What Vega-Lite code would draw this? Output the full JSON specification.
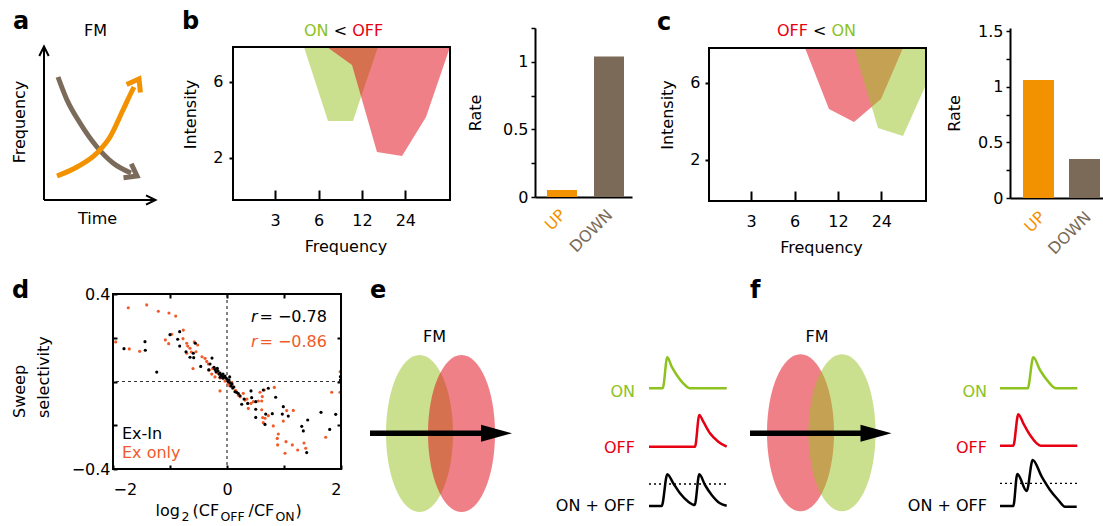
{
  "$schema": "https://vega.github.io/schema/vega-lite/v6.json",
  "padding": {"left": 0, "top": 10, "right": 0, "bottom": 0},
  "background": "white",
  "config": {
    "font": "DejaVu Sans",
    "view": {"stroke": null},
    "axis": {"labelFont": "DejaVu Sans", "labelFontSize": 16, "labelColor": "black", "titleFont": "DejaVu Sans", "titleFontSize": 16, "titleFontWeight": "normal", "titleColor": "black", "tickColor": "black", "domainColor": "black", "domainWidth": 2, "tickWidth": 1.5, "grid": false},
    "text": {"font": "DejaVu Sans", "fontSize": 16, "color": "black", "baseline": "alphabetic"}
  },
  "spacing": 266,
  "bounds": "flush",
  "resolve": {"scale": {"color": "independent"}},
  "vconcat": [
    {
      "spacing": 77,
      "bounds": "flush",
      "resolve": {"scale": {"color": "independent"}},
      "hconcat": [
        {
          "width": 156, "height": 172,
          "layer": [
            {
              "data": {"values": [
                {"id": "vaxis", "t": 44, "f": 0, "o": 0}, {"id": "vaxis", "t": 44, "f": 153, "o": 1},
                {"id": "vhead", "t": 39.3, "f": 144, "o": 0}, {"id": "vhead", "t": 44, "f": 153.5, "o": 1}, {"id": "vhead", "t": 48.7, "f": 144, "o": 2},
                {"id": "haxis", "t": 44, "f": 0, "o": 0}, {"id": "haxis", "t": 155, "f": 0, "o": 1},
                {"id": "hhead", "t": 146, "f": 4.7, "o": 0}, {"id": "hhead", "t": 155.5, "f": 0, "o": 1}, {"id": "hhead", "t": 146, "f": -4.7, "o": 2}
              ]},
              "mark": {"type": "line", "color": "black", "strokeWidth": 2, "strokeCap": "butt"},
              "encoding": {
                "x": {"field": "t", "type": "quantitative", "scale": {"domain": [0, 156], "nice": false, "zero": false}, "axis": null},
                "y": {"field": "f", "type": "quantitative", "scale": {"domain": [0, 172], "nice": false, "zero": false}, "axis": null},
                "detail": {"field": "id"},
                "order": {"field": "o"}
              }
            },
            {
              "data": {"values": [
                {"id": "down", "t": 58, "f": 123}, {"id": "down", "t": 67, "f": 100}, {"id": "down", "t": 80, "f": 77}, {"id": "down", "t": 97, "f": 53}, {"id": "down", "t": 113, "f": 37}, {"id": "down", "t": 131, "f": 27},
                {"id": "up", "t": 57, "f": 24}, {"id": "up", "t": 77, "f": 33}, {"id": "up", "t": 97, "f": 47}, {"id": "up", "t": 110, "f": 63}, {"id": "up", "t": 123, "f": 90}, {"id": "up", "t": 131, "f": 107}, {"id": "up", "t": 134, "f": 113}
              ]},
              "mark": {"type": "line", "interpolate": "monotone", "strokeWidth": 5, "strokeCap": "butt"},
              "encoding": {
                "x": {"field": "t", "type": "quantitative", "axis": null},
                "y": {"field": "f", "type": "quantitative", "axis": null},
                "color": {"field": "id", "type": "nominal", "scale": {"domain": ["down", "up"], "range": ["#7b6b5a", "#f39200"]}, "legend": null}
              }
            },
            {
              "data": {"values": [
                {"id": "down", "t": 131.3, "f": 36.3, "o": 0}, {"id": "down", "t": 137, "f": 24, "o": 1}, {"id": "down", "t": 123.5, "f": 22.3, "o": 2},
                {"id": "up", "t": 140.4, "f": 107.5, "o": 0}, {"id": "up", "t": 139, "f": 121, "o": 1}, {"id": "up", "t": 126.6, "f": 115.5, "o": 2}
              ]},
              "mark": {"type": "line", "strokeWidth": 5, "strokeJoin": "miter", "strokeCap": "butt"},
              "encoding": {
                "x": {"field": "t", "type": "quantitative", "axis": null},
                "y": {"field": "f", "type": "quantitative", "axis": null},
                "color": {"field": "id", "type": "nominal", "scale": {"domain": ["down", "up"], "range": ["#7b6b5a", "#f39200"]}, "legend": null},
                "order": {"field": "o"}
              }
            },
            {
              "data": {"values": [{"txt": "a", "t": 13, "f": 171}]},
              "mark": {"type": "text", "align": "left", "fontSize": 24, "fontWeight": "bold"},
              "encoding": {"x": {"field": "t", "type": "quantitative", "axis": null}, "y": {"field": "f", "type": "quantitative", "axis": null}, "text": {"field": "txt"}}
            },
            {
              "data": {"values": [{"txt": "FM", "t": 95.5, "f": 164}, {"txt": "Time", "t": 97.5, "f": -24}]},
              "mark": {"type": "text", "align": "center"},
              "encoding": {"x": {"field": "t", "type": "quantitative", "axis": null}, "y": {"field": "f", "type": "quantitative", "axis": null}, "text": {"field": "txt"}}
            },
            {
              "data": {"values": [{"txt": "Frequency", "t": 24.7, "f": 78}]},
              "mark": {"type": "text", "align": "center", "angle": 270},
              "encoding": {"x": {"field": "t", "type": "quantitative", "axis": null}, "y": {"field": "f", "type": "quantitative", "axis": null}, "text": {"field": "txt"}}
            }
          ]
        },
        {
          "width": 225, "height": 172,
          "layer": [
            {
              "data": {"values": [
                {"f": 4.755, "i": 7.842, "hi": 7.842}, {"f": 6.978, "i": 3.947, "hi": 7.842}, {"f": 10.40, "i": 3.947, "hi": 7.842}, {"f": 11.82, "i": 5.211, "hi": 7.842}, {"f": 15.51, "i": 7.842, "hi": 7.842}
              ]},
              "mark": {"type": "area", "color": "#97c11d", "opacity": 0.5},
              "encoding": {
                "x": {"field": "f", "type": "quantitative", "scale": {"type": "log", "base": 2, "domain": [1.53, 55.67], "nice": false},
                  "axis": {"values": [3, 6, 12, 24], "format": "d", "tickSize": -10, "tickWidth": 2, "domain": false, "labelPadding": 22, "title": "Frequency", "titlePadding": 10}},
                "y": {"field": "i", "type": "quantitative", "scale": {"domain": [-0.2105, 8.842], "nice": false, "zero": false},
                  "axis": {"values": [2, 6], "tickSize": 4, "tickWidth": 2, "domain": false, "labelPadding": 6, "title": "Intensity", "titlePadding": 14}},
                "y2": {"field": "hi"}
              }
            },
            {
              "data": {"values": [
                {"f": 6.868, "i": 7.842, "hi": 7.842}, {"f": 10.24, "i": 6.895, "hi": 7.842}, {"f": 15.26, "i": 2.316, "hi": 7.842}, {"f": 22.77, "i": 2.105, "hi": 7.842}, {"f": 33.40, "i": 4.158, "hi": 7.842}, {"f": 49, "i": 7.842, "hi": 7.842}
              ]},
              "mark": {"type": "area", "color": "#e10111", "opacity": 0.5},
              "encoding": {"x": {"field": "f", "type": "quantitative"}, "y": {"field": "i", "type": "quantitative"}, "y2": {"field": "hi"}}
            },
            {
              "data": {"values": [{"f": 1.53, "f2": 49, "i": -0.2105, "i2": 7.842}]},
              "mark": {"type": "rect", "filled": false, "stroke": "black", "strokeWidth": 2},
              "encoding": {"x": {"field": "f", "type": "quantitative"}, "x2": {"field": "f2"}, "y": {"field": "i", "type": "quantitative"}, "y2": {"field": "i2"}}
            },
            {
              "data": {"values": [{"txt": "b", "f": 0.677, "i": 8.789}]},
              "mark": {"type": "text", "align": "left", "fontSize": 24, "fontWeight": "bold"},
              "encoding": {"x": {"field": "f", "type": "quantitative"}, "y": {"field": "i", "type": "quantitative"}, "text": {"field": "txt"}}
            },
            {
              "data": {"values": [{"txt": "ON", "cond": "ON", "f": 4.755, "i": 8.421}, {"txt": "<", "cond": "<", "f": 7.644, "i": 8.421}, {"txt": "OFF", "cond": "OFF", "f": 10.27, "i": 8.421}]},
              "mark": {"type": "text", "align": "left"},
              "encoding": {
                "x": {"field": "f", "type": "quantitative"}, "y": {"field": "i", "type": "quantitative"}, "text": {"field": "txt"},
                "color": {"field": "cond", "type": "nominal", "scale": {"domain": ["ON", "<", "OFF"], "range": ["#8dc21f", "black", "#e60012"]}, "legend": null}
              }
            }
          ]
        },
        {
          "width": 97, "height": 169,
          "data": {"values": [{"dir": "UP", "rate": 0.052}, {"dir": "DOWN", "rate": 1.04}]},
          "mark": {"type": "bar"},
          "encoding": {
            "x": {"field": "dir", "type": "nominal", "sort": ["UP", "DOWN"], "scale": {"paddingInner": 0.3617, "paddingOuter": 0.2128, "align": 0.6},
              "axis": {"title": null, "ticks": false, "labelAngle": -45, "labelAlign": "right", "labelBaseline": "middle", "labelPadding": 15, "labelOffset": 1,
                "labelColor": {"condition": {"test": "datum.value === 'UP'", "value": "#f39200"}, "value": "#7b6a58"}}},
            "y": {"field": "rate", "type": "quantitative", "scale": {"domain": [0, 1.25], "nice": false},
              "axis": {"values": [0, 0.25, 0.5, 0.75, 1, 1.25], "format": "~g", "labelExpr": "datum.value % 0.5 === 0 ? datum.label : ''", "tickSize": 4, "labelPadding": 3, "title": "Rate", "titlePadding": 19}},
            "color": {"field": "dir", "type": "nominal", "scale": {"domain": ["UP", "DOWN"], "range": ["#f39200", "#7b6a58"]}, "legend": null}
          }
        },
        {
          "width": 224, "height": 173,
          "layer": [
            {
              "data": {"values": [
                {"f": 7.09, "i": 7.818, "hi": 7.818}, {"f": 10.40, "i": 4.649, "hi": 7.818}, {"f": 15.51, "i": 3.974, "hi": 7.818}, {"f": 23.88, "i": 5.169, "hi": 7.818}, {"f": 33.93, "i": 7.818, "hi": 7.818}
              ]},
              "mark": {"type": "area", "color": "#e10111", "opacity": 0.5},
              "encoding": {
                "x": {"field": "f", "type": "quantitative", "scale": {"type": "log", "base": 2, "domain": [1.53, 54.8], "nice": false},
                  "axis": {"values": [3, 6, 12, 24], "format": "d", "tickSize": -10, "tickWidth": 2, "domain": false, "labelPadding": 22, "title": "Frequency", "titlePadding": 10}},
                "y": {"field": "i", "type": "quantitative", "scale": {"domain": [-0.130, 8.857], "nice": false, "zero": false},
                  "axis": {"values": [2, 6], "tickSize": 4, "tickWidth": 2, "domain": false, "labelPadding": 5, "title": "Intensity", "titlePadding": 14}},
                "y2": {"field": "hi"}
              }
            },
            {
              "data": {"values": [
                {"f": 15.51, "i": 7.818, "hi": 7.818}, {"f": 22.77, "i": 3.662, "hi": 7.818}, {"f": 33.93, "i": 3.247, "hi": 7.818}, {"f": 48.2, "i": 5.792, "hi": 7.818}, {"f": 49, "i": 5.792, "hi": 7.818}
              ]},
              "mark": {"type": "area", "color": "#97c11d", "opacity": 0.5},
              "encoding": {"x": {"field": "f", "type": "quantitative"}, "y": {"field": "i", "type": "quantitative"}, "y2": {"field": "hi"}}
            },
            {
              "data": {"values": [{"f": 1.53, "f2": 49, "i": -0.130, "i2": 7.818}]},
              "mark": {"type": "rect", "filled": false, "stroke": "black", "strokeWidth": 2},
              "encoding": {"x": {"field": "f", "type": "quantitative"}, "x2": {"field": "f2"}, "y": {"field": "i", "type": "quantitative"}, "y2": {"field": "i2"}}
            },
            {
              "data": {"values": [{"txt": "c", "f": 0.666, "i": 8.753}]},
              "mark": {"type": "text", "align": "left", "fontSize": 24, "fontWeight": "bold"},
              "encoding": {"x": {"field": "f", "type": "quantitative"}, "y": {"field": "i", "type": "quantitative"}, "text": {"field": "txt"}}
            },
            {
              "data": {"values": [{"txt": "OFF", "cond": "OFF", "f": 4.526, "i": 8.442}, {"txt": "<", "cond": "<", "f": 8.058, "i": 8.442}, {"txt": "ON", "cond": "ON", "f": 10.83, "i": 8.442}]},
              "mark": {"type": "text", "align": "left"},
              "encoding": {
                "x": {"field": "f", "type": "quantitative"}, "y": {"field": "i", "type": "quantitative"}, "text": {"field": "txt"},
                "color": {"field": "cond", "type": "nominal", "scale": {"domain": ["ON", "<", "OFF"], "range": ["#8dc21f", "black", "#e60012"]}, "legend": null}
              }
            }
          ]
        },
        {
          "width": 93, "height": 170,
          "data": {"values": [{"dir": "UP", "rate": 1.063}, {"dir": "DOWN", "rate": 0.351}]},
          "mark": {"type": "bar"},
          "encoding": {
            "x": {"field": "dir", "type": "nominal", "sort": ["UP", "DOWN"], "scale": {"paddingInner": 0.326, "paddingOuter": 0.1739, "align": 0.8125},
              "axis": {"title": null, "ticks": false, "labelAngle": -45, "labelAlign": "right", "labelBaseline": "middle", "labelPadding": 16, "labelOffset": 4,
                "labelColor": {"condition": {"test": "datum.value === 'UP'", "value": "#f39200"}, "value": "#7b6a58"}}},
            "y": {"field": "rate", "type": "quantitative", "scale": {"domain": [0, 1.5315], "nice": false},
              "axis": {"values": [0, 0.25, 0.5, 0.75, 1, 1.25, 1.5], "format": "~g", "labelExpr": "datum.value % 0.5 === 0 ? datum.label : ''", "tickSize": 4, "labelPadding": 3, "title": "Rate", "titlePadding": 15}},
            "color": {"field": "dir", "type": "nominal", "scale": {"domain": ["UP", "DOWN"], "range": ["#f39200", "#7b6a58"]}, "legend": null}
          }
        }
      ]
    },
    {
      "spacing": 77,
      "bounds": "flush",
      "resolve": {"scale": {"color": "independent"}},
      "hconcat": [
        {
          "width": 36, "height": 175,
          "layer": [
            {
              "data": {"values": [{"txt": "d", "x": 12, "y": 171}]},
              "mark": {"type": "text", "align": "left", "fontSize": 24, "fontWeight": "bold"},
              "encoding": {
                "x": {"field": "x", "type": "quantitative", "scale": {"domain": [0, 36], "nice": false, "zero": false}, "axis": null},
                "y": {"field": "y", "type": "quantitative", "scale": {"domain": [0, 175], "nice": false, "zero": false}, "axis": null},
                "text": {"field": "txt"}
              }
            },
            {
              "data": {"values": [{"txt": "Sweep", "x": 24.5, "y": 51}, {"txt": "selectivity", "x": 49.2, "y": 51}]},
              "mark": {"type": "text", "align": "left", "angle": 270},
              "encoding": {"x": {"field": "x", "type": "quantitative", "axis": null}, "y": {"field": "y", "type": "quantitative", "axis": null}, "text": {"field": "txt"}}
            }
          ]
        },
        {
          "width": 228, "height": 175,
          "resolve": {"axis": {"x": "independent", "y": "independent"}},
          "layer": [
            {
              "data": {"values": [{"x": 0}]},
              "mark": {"type": "rule", "color": "#333", "strokeDash": [3, 3], "strokeWidth": 1.2},
              "encoding": {"x": {"field": "x", "type": "quantitative", "scale": {"domain": [-2, 2], "nice": false, "zero": false}, "axis": null}}
            },
            {
              "data": {"values": [{"y": 0}]},
              "mark": {"type": "rule", "color": "#333", "strokeDash": [3, 3], "strokeWidth": 1.2},
              "encoding": {"y": {"field": "y", "type": "quantitative", "scale": {"domain": [-0.4, 0.4], "nice": false, "zero": false}, "axis": null}}
            },
            {
              "data": {"values": [
                {"x": -1.732, "y": 0.337}, {"x": -1.409, "y": 0.350}, {"x": -1.205, "y": 0.321}, {"x": -1.018, "y": 0.313}, {"x": -0.900, "y": 0.299},
                {"x": -1.953, "y": 0.181}, {"x": -1.714, "y": 0.149}, {"x": -1.532, "y": 0.138}, {"x": -1.082, "y": 0.190}, {"x": -1.023, "y": 0.173},
                {"x": -0.970, "y": 0.216}, {"x": -0.767, "y": 0.235}, {"x": -0.772, "y": 0.196}, {"x": -0.707, "y": 0.175}, {"x": -0.689, "y": 0.162},
                {"x": -0.649, "y": 0.152}, {"x": -0.626, "y": 0.135}, {"x": -0.574, "y": 0.181}, {"x": -0.514, "y": 0.167}, {"x": -0.544, "y": 0.136},
                {"x": -0.707, "y": 0.129}, {"x": -0.439, "y": 0.113}, {"x": -0.386, "y": 0.106}, {"x": -0.356, "y": 0.092}, {"x": -0.328, "y": 0.080},
                {"x": -0.596, "y": 0.059}, {"x": -0.311, "y": 0.053}, {"x": -0.268, "y": 0.034}, {"x": -0.211, "y": 0.021}, {"x": -0.123, "y": 0.016},
                {"x": -0.035, "y": 0.002}, {"x": 0.018, "y": -0.011}, {"x": -0.123, "y": -0.043}, {"x": 0.082, "y": -0.004}, {"x": 0.111, "y": -0.024},
                {"x": 0.198, "y": -0.062}, {"x": 0.286, "y": -0.054}, {"x": 0.316, "y": -0.085}, {"x": 0.374, "y": -0.123}, {"x": 0.461, "y": -0.092},
                {"x": 0.549, "y": -0.089}, {"x": 0.609, "y": -0.089}, {"x": 0.579, "y": -0.049}, {"x": 0.619, "y": -0.069}, {"x": 0.654, "y": -0.039},
                {"x": 0.830, "y": -0.027}, {"x": 0.609, "y": -0.129}, {"x": 0.626, "y": -0.165}, {"x": 0.637, "y": -0.188}, {"x": 0.667, "y": -0.168},
                {"x": 0.725, "y": -0.156}, {"x": 0.812, "y": -0.203}, {"x": 0.988, "y": -0.181}, {"x": 1.047, "y": -0.133}, {"x": 1.163, "y": -0.132},
                {"x": 0.900, "y": -0.240}, {"x": 0.882, "y": -0.260}, {"x": 0.889, "y": -0.290}, {"x": 1.035, "y": -0.275}, {"x": 1.146, "y": -0.290},
                {"x": 1.240, "y": -0.313}, {"x": 1.018, "y": -0.328}, {"x": 1.351, "y": -0.281}, {"x": 1.381, "y": -0.305}, {"x": 1.732, "y": -0.255},
                {"x": 1.837, "y": -0.049}, {"x": 1.982, "y": -0.049}, {"x": 1.985, "y": 0.045}, {"x": -0.25, "y": 0.06}, {"x": -0.18, "y": 0.04},
                {"x": 0.05, "y": -0.02}, {"x": 0.15, "y": -0.04}, {"x": 0.23, "y": -0.07}, {"x": 0.35, "y": -0.08}, {"x": 0.42, "y": -0.1}
              ]},
              "mark": {"type": "circle", "size": 10, "opacity": 1, "color": "#f15a29"},
              "encoding": {
                "x": {"field": "x", "type": "quantitative", "scale": {"domain": [-2, 2], "nice": false, "zero": false},
                  "axis": {"orient": "bottom", "values": [-2, -1, 0, 1, 2], "labelExpr": "datum.value % 2 === 0 ? datum.label : ''", "tickSize": -4, "tickWidth": 2, "domain": false, "labelPadding": 16, "title": null}},
                "y": {"field": "y", "type": "quantitative", "scale": {"domain": [-0.4, 0.4], "nice": false, "zero": false},
                  "axis": {"orient": "left", "values": [-0.4, -0.2, 0, 0.2, 0.4], "labelExpr": "abs(datum.value) > 0.3 ? datum.label : ''", "tickSize": -4, "tickWidth": 2, "domain": false, "labelPadding": 7, "title": null}}
              }
            },
            {
              "data": {"values": [
                {"x": -1.807, "y": 0.150}, {"x": -1.439, "y": 0.182}, {"x": -1.433, "y": 0.143}, {"x": -1.233, "y": 0.043}, {"x": -1.000, "y": 0.214},
                {"x": -0.830, "y": 0.228}, {"x": -0.865, "y": 0.193}, {"x": -0.830, "y": 0.162}, {"x": -0.719, "y": 0.136}, {"x": -0.556, "y": 0.175},
                {"x": -0.591, "y": 0.129}, {"x": -0.649, "y": 0.111}, {"x": -0.584, "y": 0.109}, {"x": -0.461, "y": 0.069}, {"x": -0.263, "y": 0.107},
                {"x": -0.298, "y": 0.080}, {"x": -0.321, "y": 0.053}, {"x": -0.228, "y": 0.065}, {"x": -0.193, "y": 0.045}, {"x": -0.158, "y": 0.048},
                {"x": -0.123, "y": 0.039}, {"x": -0.105, "y": 0.030}, {"x": -0.070, "y": 0.034}, {"x": -0.053, "y": 0.021}, {"x": -0.018, "y": 0.016},
                {"x": 0.000, "y": 0.011}, {"x": 0.035, "y": 0.007}, {"x": 0.053, "y": -0.007}, {"x": 0.088, "y": -0.011}, {"x": -0.140, "y": 0.034},
                {"x": -0.088, "y": 0.025}, {"x": -0.035, "y": 0.025}, {"x": 0.047, "y": 0.021}, {"x": 0.140, "y": -0.047}, {"x": 0.228, "y": -0.065},
                {"x": 0.258, "y": -0.104}, {"x": 0.363, "y": -0.100}, {"x": 0.421, "y": -0.043}, {"x": 0.433, "y": -0.074}, {"x": 0.504, "y": -0.092},
                {"x": 0.504, "y": -0.127}, {"x": 0.504, "y": -0.164}, {"x": 0.637, "y": -0.039}, {"x": 0.725, "y": -0.031}, {"x": 0.679, "y": -0.149},
                {"x": 0.795, "y": -0.147}, {"x": 0.667, "y": -0.196}, {"x": 0.854, "y": -0.072}, {"x": 0.988, "y": -0.115}, {"x": 0.970, "y": -0.149},
                {"x": 1.075, "y": -0.158}, {"x": 1.311, "y": -0.205}, {"x": 1.339, "y": -0.226}, {"x": 1.416, "y": -0.176}, {"x": 1.649, "y": -0.141},
                {"x": 1.802, "y": -0.219}, {"x": 1.907, "y": -0.150}, {"x": 1.398, "y": -0.325}, {"x": 1.99, "y": 0.007}, {"x": 1.99, "y": 0.022},
                {"x": -0.21, "y": 0.055}, {"x": -0.17, "y": 0.06}, {"x": -0.12, "y": 0.02}, {"x": -0.07, "y": 0.015}, {"x": 0.02, "y": 0.0},
                {"x": 0.07, "y": -0.02}, {"x": 0.1, "y": -0.03}, {"x": 0.12, "y": -0.025}, {"x": 0.17, "y": -0.05}, {"x": 0.2, "y": -0.055}, {"x": 0.3, "y": -0.08}
              ]},
              "mark": {"type": "circle", "size": 10, "opacity": 1, "color": "black"},
              "encoding": {
                "x": {"field": "x", "type": "quantitative", "axis": {"orient": "top", "values": [-1, 0, 1], "labels": false, "tickSize": -4, "tickWidth": 2, "domain": false, "title": null}},
                "y": {"field": "y", "type": "quantitative", "axis": {"orient": "right", "values": [-0.2, 0, 0.2], "labels": false, "tickSize": -4, "tickWidth": 2, "domain": false, "title": null}}
              }
            },
            {
              "data": {"values": [{"x0": -2, "x1": 2, "y0": -0.4, "y1": 0.4}]},
              "mark": {"type": "rect", "filled": false, "stroke": "black", "strokeWidth": 2},
              "encoding": {"x": {"field": "x0", "type": "quantitative", "axis": null}, "x2": {"field": "x1"}, "y": {"field": "y0", "type": "quantitative", "axis": null}, "y2": {"field": "y1"}}
            },
            {
              "data": {"values": [{"txt": "r", "g": "Ex-In", "x": 0.421, "y": 0.272}, {"txt": "r", "g": "Ex only", "x": 0.421, "y": 0.158}]},
              "mark": {"type": "text", "align": "left", "fontStyle": "italic"},
              "encoding": {
                "x": {"field": "x", "type": "quantitative", "axis": null}, "y": {"field": "y", "type": "quantitative", "axis": null}, "text": {"field": "txt"},
                "color": {"field": "g", "type": "nominal", "scale": {"domain": ["Ex-In", "Ex only"], "range": ["black", "#f15a29"]}, "legend": null}
              }
            },
            {
              "data": {"values": [{"txt": "= −0.78", "g": "Ex-In", "x": 1.754, "y": 0.272}, {"txt": "= −0.86", "g": "Ex only", "x": 1.754, "y": 0.158}]},
              "mark": {"type": "text", "align": "right"},
              "encoding": {
                "x": {"field": "x", "type": "quantitative", "axis": null}, "y": {"field": "y", "type": "quantitative", "axis": null}, "text": {"field": "txt"},
                "color": {"field": "g", "type": "nominal", "scale": {"domain": ["Ex-In", "Ex only"], "range": ["black", "#f15a29"]}, "legend": null}
              }
            },
            {
              "data": {"values": [{"txt": "Ex-In", "g": "Ex-In", "x": -1.842, "y": -0.263}, {"txt": "Ex only", "g": "Ex only", "x": -1.842, "y": -0.351}]},
              "mark": {"type": "text", "align": "left"},
              "encoding": {
                "x": {"field": "x", "type": "quantitative", "axis": null}, "y": {"field": "y", "type": "quantitative", "axis": null}, "text": {"field": "txt"},
                "color": {"field": "g", "type": "nominal", "scale": {"domain": ["Ex-In", "Ex only"], "range": ["black", "#f15a29"]}, "legend": null}
              }
            },
            {
              "data": {"values": [{"txt": "log", "x": -1.254, "y": -0.615}, {"txt": "(CF", "x": -0.605, "y": -0.615}, {"txt": "/CF", "x": 0.377, "y": -0.615}, {"txt": ")", "x": 1.202, "y": -0.615}]},
              "mark": {"type": "text", "align": "left"},
              "encoding": {"x": {"field": "x", "type": "quantitative", "axis": null}, "y": {"field": "y", "type": "quantitative", "axis": null}, "text": {"field": "txt"}}
            },
            {
              "data": {"values": [{"txt": "2", "x": -0.798, "y": -0.638}, {"txt": "OFF", "x": -0.114, "y": -0.638}, {"txt": "ON", "x": 0.851, "y": -0.638}]},
              "mark": {"type": "text", "align": "left", "fontSize": 12.5},
              "encoding": {"x": {"field": "x", "type": "quantitative", "axis": null}, "y": {"field": "y", "type": "quantitative", "axis": null}, "text": {"field": "txt"}}
            }
          ]
        },
        {
          "width": 235, "height": 175,
          "resolve": {"scale": {"color": "independent"}},
          "layer": [
            {
              "data": {"values": [{"cond": "ON", "x": 1.5, "y": 35.5}, {"cond": "OFF", "x": 43.5, "y": 35.5}]},
              "mark": {"type": "point", "filled": true, "opacity": 0.5, "strokeWidth": 0, "size": 24649,
                "shape": "M 0 -1 C 0.2358 -1 0.427 -0.5523 0.427 0 C 0.427 0.5523 0.2358 1 0 1 C -0.2358 1 -0.427 0.5523 -0.427 0 C -0.427 -0.5523 -0.2358 -1 0 -1 Z"},
              "encoding": {
                "x": {"field": "x", "type": "quantitative", "scale": {"domain": [0, 235], "nice": false, "zero": false}, "axis": null},
                "y": {"field": "y", "type": "quantitative", "scale": {"domain": [0, 175], "nice": false, "zero": false}, "axis": null},
                "color": {"field": "cond", "type": "nominal", "scale": {"domain": ["ON", "OFF"], "range": ["#97c11d", "#e10111"]}, "legend": null}
              }
            },
            {
              "data": {"values": [{"x0": -48, "x1": 66, "y": 35.7}]},
              "mark": {"type": "rule", "color": "black", "strokeWidth": 5.5},
              "encoding": {"x": {"field": "x0", "type": "quantitative", "axis": null}, "x2": {"field": "x1"}, "y": {"field": "y", "type": "quantitative", "axis": null}}
            },
            {
              "data": {"values": [{"x": 78.5, "y": 35.7}]},
              "mark": {"type": "point", "filled": true, "opacity": 1, "color": "black", "strokeWidth": 0, "size": 961, "shape": "M -1 -0.55 L 1 0 L -1 0.55 Z"},
              "encoding": {"x": {"field": "x", "type": "quantitative", "axis": null}, "y": {"field": "y", "type": "quantitative", "axis": null}}
            },
            {
              "data": {"values": [
                {"tr": "ON", "x": 231, "y": 80.7}, {"tr": "ON", "x": 244.7, "y": 80.7}, {"tr": "ON", "x": 249.3, "y": 111.7}, {"tr": "ON", "x": 253.7, "y": 102.3}, {"tr": "ON", "x": 258.7, "y": 94}, {"tr": "ON", "x": 265.3, "y": 85.7}, {"tr": "ON", "x": 272, "y": 80.7}, {"tr": "ON", "x": 308.7, "y": 80.7},
                {"tr": "OFF", "x": 231, "y": 22.3}, {"tr": "OFF", "x": 277, "y": 22.3}, {"tr": "OFF", "x": 281.3, "y": 54}, {"tr": "OFF", "x": 285.3, "y": 47.3}, {"tr": "OFF", "x": 292, "y": 35.7}, {"tr": "OFF", "x": 300.3, "y": 27.3}, {"tr": "OFF", "x": 308.7, "y": 22.3},
                {"tr": "ON + OFF", "x": 231, "y": -37}, {"tr": "ON + OFF", "x": 243.7, "y": -37}, {"tr": "ON + OFF", "x": 249.3, "y": -5.3}, {"tr": "ON + OFF", "x": 255.3, "y": -14.3}, {"tr": "ON + OFF", "x": 262, "y": -24.3}, {"tr": "ON + OFF", "x": 270.3, "y": -32.7}, {"tr": "ON + OFF", "x": 276.7, "y": -36}, {"tr": "ON + OFF", "x": 281.3, "y": -5.3}, {"tr": "ON + OFF", "x": 287, "y": -16}, {"tr": "ON + OFF", "x": 293.7, "y": -26}, {"tr": "ON + OFF", "x": 302, "y": -34.3}, {"tr": "ON + OFF", "x": 308.7, "y": -36.7}
              ]},
              "mark": {"type": "line", "interpolate": "monotone", "strokeWidth": 2.5},
              "encoding": {
                "x": {"field": "x", "type": "quantitative", "axis": null}, "y": {"field": "y", "type": "quantitative", "axis": null},
                "color": {"field": "tr", "type": "nominal", "scale": {"domain": ["ON", "OFF", "ON + OFF"], "range": ["#8dc21f", "#e60012", "black"]}, "legend": null}
              }
            },
            {
              "data": {"values": [{"x0": 231, "x1": 309, "y": -15}]},
              "mark": {"type": "rule", "color": "black", "strokeWidth": 1.3, "strokeDash": [2, 3]},
              "encoding": {"x": {"field": "x0", "type": "quantitative", "axis": null}, "x2": {"field": "x1"}, "y": {"field": "y", "type": "quantitative", "axis": null}}
            },
            {
              "data": {"values": [{"txt": "ON", "tr": "ON", "x": 217, "y": 72}, {"txt": "OFF", "tr": "OFF", "x": 217, "y": 16.3}, {"txt": "ON + OFF", "tr": "ON + OFF", "x": 217, "y": -42}]},
              "mark": {"type": "text", "align": "right"},
              "encoding": {"x": {"field": "x", "type": "quantitative", "axis": null}, "y": {"field": "y", "type": "quantitative", "axis": null}, "text": {"field": "txt"},
                "color": {"field": "tr", "type": "nominal", "scale": {"domain": ["ON", "OFF", "ON + OFF"], "range": ["#8dc21f", "#e60012", "black"]}, "legend": null}}
            },
            {
              "data": {"values": [{"txt": "FM", "x": 16.5, "y": 127}]},
              "mark": {"type": "text", "align": "center"},
              "encoding": {"x": {"field": "x", "type": "quantitative", "axis": null}, "y": {"field": "y", "type": "quantitative", "axis": null}, "text": {"field": "txt"}}
            },
            {
              "data": {"values": [{"txt": "e", "x": -48, "y": 171}]},
              "mark": {"type": "text", "align": "left", "fontSize": 24, "fontWeight": "bold"},
              "encoding": {"x": {"field": "x", "type": "quantitative", "axis": null}, "y": {"field": "y", "type": "quantitative", "axis": null}, "text": {"field": "txt"}}
            }
          ]
        },
        {
          "width": 373, "height": 175,
          "resolve": {"scale": {"color": "independent"}},
          "layer": [
            {
              "data": {"values": [{"cond": "OFF", "x": 70.5, "y": 36.3}, {"cond": "ON", "x": 112, "y": 36.3}]},
              "mark": {"type": "point", "filled": true, "opacity": 0.5, "strokeWidth": 0, "size": 24649,
                "shape": "M 0 -1 C 0.2358 -1 0.427 -0.5523 0.427 0 C 0.427 0.5523 0.2358 1 0 1 C -0.2358 1 -0.427 0.5523 -0.427 0 C -0.427 -0.5523 -0.2358 -1 0 -1 Z"},
              "encoding": {
                "x": {"field": "x", "type": "quantitative", "scale": {"domain": [0, 373], "nice": false, "zero": false}, "axis": null},
                "y": {"field": "y", "type": "quantitative", "scale": {"domain": [0, 175], "nice": false, "zero": false}, "axis": null},
                "color": {"field": "cond", "type": "nominal", "scale": {"domain": ["ON", "OFF"], "range": ["#97c11d", "#e10111"]}, "legend": null}
              }
            },
            {
              "data": {"values": [{"x0": 20, "x1": 134, "y": 35.7}]},
              "mark": {"type": "rule", "color": "black", "strokeWidth": 5.5},
              "encoding": {"x": {"field": "x0", "type": "quantitative", "axis": null}, "x2": {"field": "x1"}, "y": {"field": "y", "type": "quantitative", "axis": null}}
            },
            {
              "data": {"values": [{"x": 146, "y": 35.7}]},
              "mark": {"type": "point", "filled": true, "opacity": 1, "color": "black", "strokeWidth": 0, "size": 961, "shape": "M -1 -0.55 L 1 0 L -1 0.55 Z"},
              "encoding": {"x": {"field": "x", "type": "quantitative", "axis": null}, "y": {"field": "y", "type": "quantitative", "axis": null}}
            },
            {
              "data": {"values": [
                {"tr": "ON", "x": 270, "y": 80.7}, {"tr": "ON", "x": 297.7, "y": 80.7}, {"tr": "ON", "x": 303.3, "y": 111.7}, {"tr": "ON", "x": 310, "y": 99}, {"tr": "ON", "x": 318.3, "y": 87.3}, {"tr": "ON", "x": 326, "y": 80.7}, {"tr": "ON", "x": 347.3, "y": 80.7},
                {"tr": "OFF", "x": 270, "y": 23.3}, {"tr": "OFF", "x": 283.3, "y": 23.3}, {"tr": "OFF", "x": 288.3, "y": 54.7}, {"tr": "OFF", "x": 293.3, "y": 45.7}, {"tr": "OFF", "x": 300, "y": 34}, {"tr": "OFF", "x": 310.7, "y": 23.3}, {"tr": "OFF", "x": 347.3, "y": 23.3},
                {"tr": "ON + OFF", "x": 270, "y": -37}, {"tr": "ON + OFF", "x": 283.3, "y": -37}, {"tr": "ON + OFF", "x": 287.3, "y": -5}, {"tr": "ON + OFF", "x": 296.7, "y": -22}, {"tr": "ON + OFF", "x": 302.7, "y": 9}, {"tr": "ON + OFF", "x": 311.7, "y": -7.7}, {"tr": "ON + OFF", "x": 320, "y": -21}, {"tr": "ON + OFF", "x": 328.3, "y": -31}, {"tr": "ON + OFF", "x": 335, "y": -37.7}, {"tr": "ON + OFF", "x": 346.7, "y": -37.7}
              ]},
              "mark": {"type": "line", "interpolate": "monotone", "strokeWidth": 2.5},
              "encoding": {
                "x": {"field": "x", "type": "quantitative", "axis": null}, "y": {"field": "y", "type": "quantitative", "axis": null},
                "color": {"field": "tr", "type": "nominal", "scale": {"domain": ["ON", "OFF", "ON + OFF"], "range": ["#8dc21f", "#e60012", "black"]}, "legend": null}
              }
            },
            {
              "data": {"values": [{"x0": 270, "x1": 347, "y": -14.3}]},
              "mark": {"type": "rule", "color": "black", "strokeWidth": 1.3, "strokeDash": [2, 3]},
              "encoding": {"x": {"field": "x0", "type": "quantitative", "axis": null}, "x2": {"field": "x1"}, "y": {"field": "y", "type": "quantitative", "axis": null}}
            },
            {
              "data": {"values": [{"txt": "ON", "tr": "ON", "x": 257, "y": 72}, {"txt": "OFF", "tr": "OFF", "x": 257, "y": 16.3}, {"txt": "ON + OFF", "tr": "ON + OFF", "x": 257, "y": -42}]},
              "mark": {"type": "text", "align": "right"},
              "encoding": {"x": {"field": "x", "type": "quantitative", "axis": null}, "y": {"field": "y", "type": "quantitative", "axis": null}, "text": {"field": "txt"},
                "color": {"field": "tr", "type": "nominal", "scale": {"domain": ["ON", "OFF", "ON + OFF"], "range": ["#8dc21f", "#e60012", "black"]}, "legend": null}}
            },
            {
              "data": {"values": [{"txt": "FM", "x": 87, "y": 127}]},
              "mark": {"type": "text", "align": "center"},
              "encoding": {"x": {"field": "x", "type": "quantitative", "axis": null}, "y": {"field": "y", "type": "quantitative", "axis": null}, "text": {"field": "txt"}}
            },
            {
              "data": {"values": [{"txt": "f", "x": 20, "y": 171}]},
              "mark": {"type": "text", "align": "left", "fontSize": 24, "fontWeight": "bold"},
              "encoding": {"x": {"field": "x", "type": "quantitative", "axis": null}, "y": {"field": "y", "type": "quantitative", "axis": null}, "text": {"field": "txt"}}
            }
          ]
        }
      ]
    }
  ]
}
